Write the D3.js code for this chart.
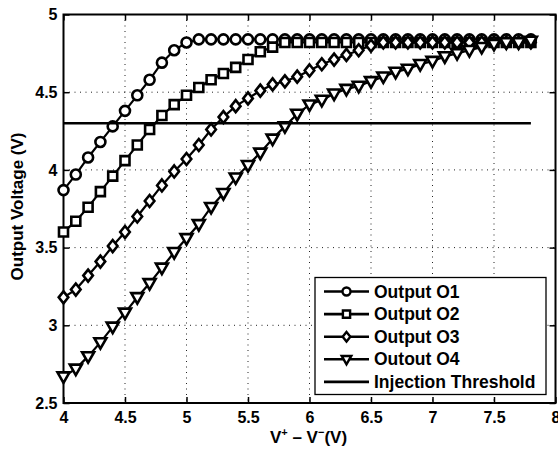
<!DOCTYPE html>
<html>
<head>
<meta charset="utf-8">
<script src="https://cdn.jsdelivr.net/npm/d3@7"></script>
<style>
  html, body { margin: 0; padding: 0; background: #fff; }
  svg { display: block; font-family: "Liberation Sans", Arial, sans-serif; font-weight: bold; }
</style>
</head>
<body>
<svg id="chart" width="558" height="454"></svg>
<script>
// Differential input voltage V+ - V- (V), sampled every 0.1 V
const inputVoltage = [4.0,4.1,4.2,4.3,4.4,4.5,4.6,4.7,4.8,4.9,5.0,5.1,5.2,5.3,5.4,5.5,5.6,5.7,5.8,5.9,
  6.0,6.1,6.2,6.3,6.4,6.5,6.6,6.7,6.8,6.9,7.0,7.1,7.2,7.3,7.4,7.5,7.6,7.7,7.8];

// Output voltages (V)
const outputO1 = [3.87,3.97,4.08,4.18,4.28,4.38,4.48,4.58,4.69,4.77,4.82,4.84,4.84,4.84,4.84,4.84,4.84,4.84,4.84,4.84,
  4.84,4.84,4.84,4.84,4.84,4.84,4.84,4.84,4.84,4.84,4.84,4.84,4.84,4.84,4.84,4.84,4.84,4.84,4.84];
const outputO2 = [3.60,3.67,3.76,3.86,3.96,4.06,4.16,4.26,4.35,4.42,4.48,4.53,4.58,4.62,4.66,4.71,4.76,4.79,4.82,4.82,
  4.82,4.82,4.82,4.82,4.82,4.82,4.82,4.82,4.82,4.82,4.82,4.82,4.82,4.82,4.82,4.82,4.82,4.82,4.82];
const outputO3 = [3.18,3.23,3.32,3.41,3.51,3.60,3.70,3.80,3.90,3.99,4.07,4.16,4.26,4.34,4.41,4.46,4.51,4.55,4.57,4.60,
  4.64,4.68,4.71,4.74,4.77,4.80,4.82,4.82,4.82,4.82,4.82,4.82,4.82,4.82,4.82,4.82,4.82,4.82,4.82];
const outputO4 = [2.67,2.72,2.80,2.89,2.99,3.08,3.18,3.27,3.37,3.47,3.56,3.65,3.76,3.85,3.95,4.03,4.11,4.20,4.28,4.36,
  4.42,4.45,4.49,4.52,4.54,4.57,4.60,4.63,4.65,4.68,4.70,4.73,4.75,4.77,4.79,4.81,4.82,4.82,4.83];

const thresholdLevel = 4.3;
const thresholdSpan = [4.0, 7.8];

const seriesNames = ["Output O1", "Output O2", "Output O3", "Outout O4"];
const seriesMarkers = ["circle", "square", "diamond", "triangleDown"];
const thresholdName = "Injection Threshold";

const xTicks = [4, 4.5, 5, 5.5, 6, 6.5, 7, 7.5, 8];
const yTicks = [2.5, 3, 3.5, 4, 4.5, 5];

const svg = d3.select("#chart");
const plot = { left: 63.5, right: 555.5, top: 14.5, bottom: 403 };

const x = d3.scaleLinear().domain([4, 8]).range([plot.left, plot.right]);
const y = d3.scaleLinear().domain([2.5, 5]).range([plot.bottom, plot.top]);

// grid
const grid = svg.append("g").attr("stroke", "#222").attr("stroke-width", 1)
  .attr("stroke-dasharray", "1,4.5").attr("fill", "none");
xTicks.filter(t => t > 4 && t < 8).forEach(t => {
  grid.append("line").attr("x1", x(t)).attr("x2", x(t)).attr("y1", plot.top).attr("y2", plot.bottom);
});
yTicks.filter(t => t > 2.5 && t < 5).forEach(t => {
  grid.append("line").attr("y1", y(t)).attr("y2", y(t)).attr("x1", plot.left).attr("x2", plot.right);
});

// axes
const tickFmt = d => String(d);
const axisStyle = g => {
  g.selectAll(".domain").remove();
  g.selectAll(".tick line").attr("stroke", "#000").attr("stroke-width", 1.5);
  g.selectAll(".tick text").attr("font-size", 16).attr("font-weight", "bold")
    .attr("font-family", "Liberation Sans, Arial, sans-serif").attr("fill", "#000");
};
svg.append("g").attr("transform", `translate(0,${plot.bottom})`)
  .call(d3.axisBottom(x).tickValues(xTicks).tickFormat(tickFmt).tickSizeInner(-6).tickSizeOuter(0).tickPadding(9))
  .call(axisStyle);
svg.append("g").attr("transform", `translate(${plot.left},0)`)
  .call(d3.axisLeft(y).tickValues(yTicks).tickFormat(tickFmt).tickSizeInner(-6).tickSizeOuter(0).tickPadding(6))
  .call(axisStyle);
svg.append("g").attr("transform", `translate(0,${plot.top})`)
  .call(d3.axisTop(x).tickValues(xTicks).tickFormat("").tickSizeInner(-6).tickSizeOuter(0))
  .call(axisStyle);
svg.append("g").attr("transform", `translate(${plot.right},0)`)
  .call(d3.axisRight(y).tickValues(yTicks).tickFormat("").tickSizeInner(-6).tickSizeOuter(0))
  .call(axisStyle);

svg.append("rect").attr("x", plot.left).attr("y", plot.top)
  .attr("width", plot.right - plot.left).attr("height", plot.bottom - plot.top)
  .attr("fill", "none").attr("stroke", "#000").attr("stroke-width", 2);

// marker shapes
function markerPath(kind, s) {
  if (kind === "circle") return d3.arc()({ innerRadius: 0, outerRadius: s, startAngle: 0, endAngle: 2 * Math.PI });
  if (kind === "square") { const h = s * 0.9; return `M${-h},${-h}H${h}V${h}H${-h}Z`; }
  if (kind === "diamond") { const h = s * 1.2; return `M0,${-h}L${h * 0.8},0L0,${h}L${-h * 0.8},0Z`; }
  if (kind === "triangleDown") { const h = s * 1.2; return `M${-h},${-h * 0.7}L${h},${-h * 0.7}L0,${h * 1.05}Z`; }
}

const line = d3.line().x(d => x(d[0])).y(d => y(d[1]));
const seriesData = [outputO1, outputO2, outputO3, outputO4];

seriesData.forEach((vals, i) => {
  const pts = inputVoltage.map((v, k) => [v, vals[k]]);
  const g = svg.append("g");
  g.append("path").attr("d", line(pts)).attr("fill", "none").attr("stroke", "#000").attr("stroke-width", 2.2);
  g.selectAll("path.m").data(pts).join("path").attr("class", "m")
    .attr("transform", d => `translate(${x(d[0])},${y(d[1])})`)
    .attr("d", markerPath(seriesMarkers[i], 5))
    .attr("fill", "#fff").attr("stroke", "#000").attr("stroke-width", 2.6);
});

// injection threshold
svg.append("line")
  .attr("x1", x(thresholdSpan[0])).attr("x2", x(thresholdSpan[1]))
  .attr("y1", y(thresholdLevel)).attr("y2", y(thresholdLevel))
  .attr("stroke", "#000").attr("stroke-width", 2.6);

// axis titles
svg.append("text").attr("transform", `translate(23,206.5) rotate(-90)`)
  .attr("text-anchor", "middle").attr("font-size", 17).attr("fill", "#000")
  .text("Output Voltage (V)");

const xl = svg.append("text").attr("x", 308.5).attr("y", 443)
  .attr("text-anchor", "middle").attr("font-size", 17).attr("fill", "#000");
xl.append("tspan").text("V");
xl.append("tspan").attr("font-size", 11).attr("dy", -7).text("+");
xl.append("tspan").attr("dy", 7).text(" \u2013 V");
xl.append("tspan").attr("font-size", 11).attr("dy", -7).text("\u2212");
xl.append("tspan").attr("dy", 7).text("(V)");

// legend
const legend = { x: 315, y: 277.5, w: 231, h: 117 };
svg.append("rect").attr("x", legend.x).attr("y", legend.y).attr("width", legend.w).attr("height", legend.h)
  .attr("fill", "#fff").attr("stroke", "#000").attr("stroke-width", 1.3);
const entries = seriesNames.map((n, i) => ({ name: n, marker: seriesMarkers[i] }))
  .concat([{ name: thresholdName, marker: null }]);
entries.forEach((e, i) => {
  const cy = 291.5 + i * 22.6;
  svg.append("line").attr("x1", 324).attr("x2", 369).attr("y1", cy).attr("y2", cy)
    .attr("stroke", "#000").attr("stroke-width", 2.6);
  if (e.marker) {
    svg.append("path").attr("transform", `translate(346.5,${cy})`)
      .attr("d", markerPath(e.marker, 4))
      .attr("fill", "#fff").attr("stroke", "#000").attr("stroke-width", 2.4);
  }
  svg.append("text").attr("x", 374).attr("y", cy + 6).attr("font-size", 17.5).attr("fill", "#000")
    .text(e.name);
});
</script>
</body>
</html>
